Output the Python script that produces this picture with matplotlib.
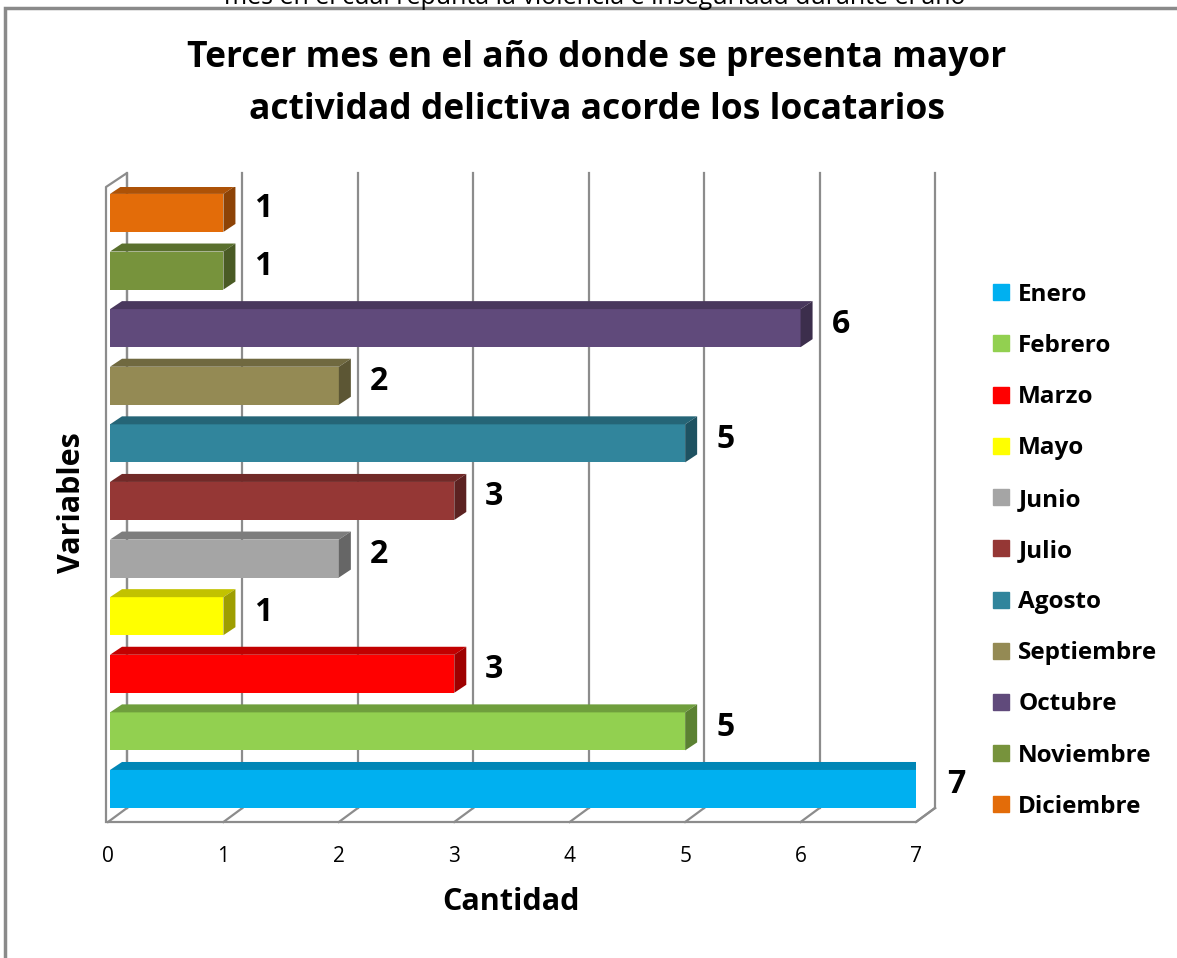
import matplotlib
matplotlib.use("Agg")
import matplotlib.pyplot as plt
from matplotlib.patches import Polygon, Rectangle
from matplotlib.lines import Line2D
import matplotlib.colors as mcolors

months = ["Enero", "Febrero", "Marzo", "Mayo", "Junio", "Julio", "Agosto",
          "Septiembre", "Octubre", "Noviembre", "Diciembre"]
counts = [7, 5, 3, 1, 2, 3, 5, 2, 6, 1, 1]
bar_colors = ["#00B0F0", "#92D050", "#FF0000", "#FFFF00", "#A5A5A5", "#953735",
              "#31859C", "#948A54", "#604A7B", "#77933C", "#E36C09"]
xticks = [0, 1, 2, 3, 4, 5, 6, 7]

title = "Tercer mes en el año donde se presenta mayor\nactividad delictiva acorde los locatarios"
clipped_title = "mes en el cual repunta la violencia e inseguridad durante el año"

plt.rcParams["font.family"] = ["Open Sans", "DejaVu Sans"]

W, H = 1177, 958
fig = plt.figure(figsize=(W / 100, H / 100), dpi=100)


def px_box(x0, y0, x1, y1):
    return [x0 / W, 1 - y1 / H, (x1 - x0) / W, (y1 - y0) / H]


# outer gray frame (goes off the right and bottom edge)
frame = Rectangle((5 / W, -0.1), 1.2, 1 - 8 / H + 0.1, transform=fig.transFigure,
                  fill=False, ec="#8A8A8A", lw=2.5)
fig.patches.append(frame)

# caption of the sheet above, cut off by the top edge as in the source
fig.text(595 / W, 1 - 4 / H, clipped_title, ha="center", va="baseline", fontsize=18)

ax = fig.add_axes(px_box(108, 187, 916, 822))
ylo, yhi = -0.573, 10.45
ax.set_xlim(0, 7)
ax.set_ylim(ylo, yhi)
for s in ax.spines.values():
    s.set_visible(False)
ax.set_yticks([])
ax.set_xticks(xticks)
ax.set_xticklabels([str(t) for t in xticks], fontsize=15)
ax.tick_params(axis="x", length=0, pad=17)
ax.patch.set_alpha(0)

# data units per pixel
sx = 7 / ax.bbox.width
sy = (yhi - ylo) / ax.bbox.height

grid_c = "#8C8C8C"
bx, by = 19 * sx, 14 * sy
for t in xticks:
    ax.plot([t + bx, t + bx], [ylo + by, yhi + by], color=grid_c, lw=1.6, clip_on=False, zorder=1)
    ax.plot([t, t + bx], [ylo, ylo + by], color=grid_c, lw=1.6, clip_on=False, zorder=1)
ax.plot([0, 7, 7 + bx], [ylo, ylo, ylo + by], color=grid_c, lw=1.6, clip_on=False, zorder=1)
ax.plot([-2 * sx, -2 * sx, bx, bx], [ylo, yhi, yhi + by, ylo + by], color=grid_c, lw=1.6,
        clip_on=False, zorder=1)

# 3D-looking bars
h = 0.66
dx, dy = 12 * sx, 8 * sy
ypos = list(range(len(months)))
fronts = ax.barh(ypos, counts, height=h, left=0, color=bar_colors, zorder=3)
for y, v, c in zip(ypos, counts, bar_colors):
    rgb = mcolors.to_rgb(c)
    top_c = tuple(k * 0.76 for k in rgb)
    side_c = tuple(k * 0.62 for k in rgb)
    x0 = 2 * sx
    top = Polygon([(x0, y + h / 2), (v, y + h / 2), (v + dx, y + h / 2 + dy), (x0 + dx, y + h / 2 + dy)],
                  closed=True, fc=top_c, ec="none", zorder=3)
    side = Polygon([(v, y - h / 2), (v + dx, y - h / 2 + dy), (v + dx, y + h / 2 + dy), (v, y + h / 2)],
                   closed=True, fc=side_c, ec="none", zorder=3)
    ax.add_patch(top)
    ax.add_patch(side)
    ax.annotate(str(v), xy=(v, y), xytext=(40, 4), textcoords="offset pixels",
                ha="center", va="center", fontsize=23, fontweight="bold", annotation_clip=False)
for r in fronts:
    r.set_x(2 * sx)
    r.set_width(r.get_width() - 2 * sx)

fig.text(597 / W, 1 - 84 / H, title, ha="center", va="center", fontsize=25.5,
         fontweight="bold", linespacing=1.58)
fig.text(511 / W, 1 - 902 / H, "Cantidad", ha="center", va="center", fontsize=22, fontweight="bold")
fig.text(72 / W, 1 - 503 / H, "Variables", ha="center", va="center", fontsize=22,
         fontweight="bold", rotation=90)

handles = [Line2D([], [], marker="s", ls="", color=c, markersize=12) for c in bar_colors]
fig.legend(handles, months, loc="upper left", bbox_to_anchor=(977 / W, 1 - 273 / H),
           frameon=False, prop={"weight": "bold", "size": 17.5},
           labelspacing=1.12, handletextpad=0.1, handlelength=1.2, borderaxespad=0)

fig.savefig("out.png", dpi=100, facecolor="white")
